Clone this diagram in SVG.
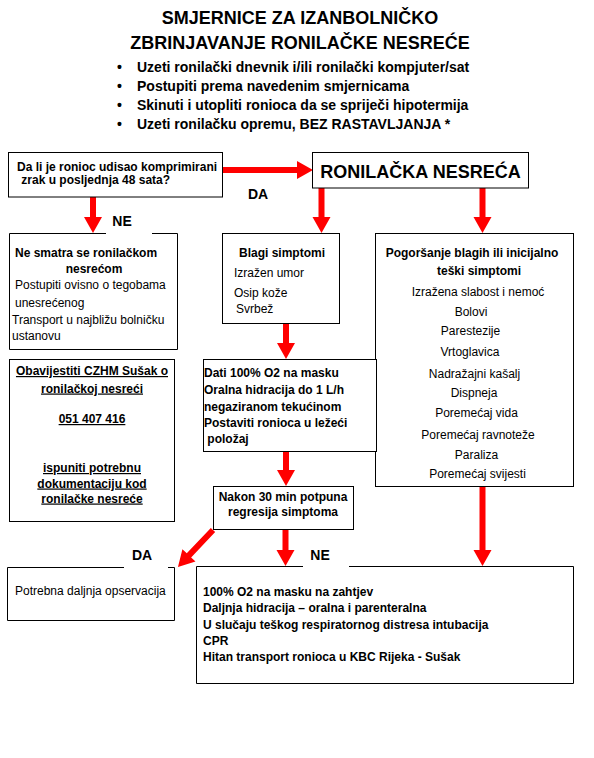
<svg xmlns="http://www.w3.org/2000/svg" width="594" height="758" viewBox="0 0 594 758">
<style>
text{font-family:"Liberation Sans",Arial,sans-serif;fill:#000}
.t{font-size:18px;font-weight:bold}
.bl{font-size:14px;font-weight:bold}
.b{font-size:12px;font-weight:bold}
.r{font-size:12px}
.lbl{font-size:14px;font-weight:bold;text-anchor:middle}
.c{text-anchor:middle}
.u{text-decoration:underline}
.box{fill:#fff;stroke:#000;stroke-width:1}
.edge{fill:none;stroke:#000;stroke-width:1}
.arrow{fill:#ff0000;stroke:none}
</style>
<rect width="594" height="758" fill="#fff"/>
<g id="title">
<text class="t c" x="300" y="24">SMJERNICE ZA IZANBOLNIČKO</text>
<text class="t c" x="300" y="49">ZBRINJAVANJE RONILAČKE NESREĆE</text>
<text class="bl" x="117" y="72">•</text><text class="bl" x="137" y="72">Uzeti ronilački dnevnik i/ili ronilački kompjuter/sat</text>
<text class="bl" x="117" y="91">•</text><text class="bl" x="137" y="91">Postupiti prema navedenim smjernicama</text>
<text class="bl" x="117" y="110">•</text><text class="bl" x="137" y="110">Skinuti i utopliti ronioca da se spriječi hipotermija</text>
<text class="bl" x="117" y="129">•</text><text class="bl" x="137" y="129">Uzeti ronilačku opremu, BEZ RASTAVLJANJA *</text>
</g>
<g id="connectors">
<path class="arrow" d="M222.5,167 H297 V161 L313,170 L297,179 V173 H222.5 Z"/>
<path class="arrow" d="M90,197 V217 H84 L93,233 L102,217 H96 V197 Z"/>
<path class="arrow" d="M318.5,188 V217 H312.5 L321.5,233 L330.5,217 H324.5 V188 Z"/>
<path class="arrow" d="M479.5,188 V217 H473.5 L482.5,233 L491.5,217 H485.5 V188 Z"/>
<path class="arrow" d="M283,323 V343 H277 L286,359 L295,343 H289 V323 Z"/>
<path class="arrow" d="M283,451 V470 H277 L286,486 L295,470 H289 V451 Z"/>
<path class="arrow" d="M282.5,529.5 V550 H276.5 L285.5,566 L294.5,550 H288.5 V529.5 Z"/>
<path class="arrow" d="M479.5,486 V550 H473.5 L482.5,566 L491.5,550 H485.5 V486 Z"/>
<path class="arrow" transform="translate(213,530) rotate(133.4)" d="M0,-3 H35 V-9 L51,0 L35,9 V3 H0 Z"/>
<text class="lbl" x="258" y="199">DA</text>
<text class="lbl" x="122" y="226">NE</text>
<text class="lbl" x="142" y="560">DA</text>
<text class="lbl" x="320" y="560">NE</text>
</g>
<g id="n-question">
<rect class="box" x="8.5" y="152.5" width="214" height="44.5"/>
<text class="b" x="17" y="170.5">Da li je ronioc udisao komprimirani</text>
<text class="b" x="18" y="183.5" xml:space="preserve"> zrak u posljednja 48 sata?</text>
</g>
<g id="n-accident">
<rect class="box" x="312.5" y="152.5" width="216" height="35.5"/>
<text class="t c" x="420.5" y="178">RONILAČKA NESREĆA</text>
</g>
<g id="n-not-accident">
<rect x="9.5" y="233.5" width="168" height="116" fill="#fff"/>
<path class="edge" d="M152,233.5 H177.5 V349.5 H9.5 V233.5 H106"/>
<text class="b" x="15" y="257">Ne smatra se ronilačkom</text>
<text class="b c" x="94" y="273">nesrećom</text>
<text class="r" x="15" y="289">Postupiti ovisno o tegobama</text>
<text class="r" x="15" y="307">unesrećenog</text>
<text class="r" x="12" y="324">Transport u najbližu bolničku</text>
<text class="r" x="12" y="340">ustanovu</text>
</g>
<g id="n-mild">
<rect class="box" x="222.5" y="233.5" width="117" height="90"/>
<text class="b c" x="282" y="257">Blagi simptomi</text>
<text class="r" x="234" y="277">Izražen umor</text>
<text class="r" x="234" y="297">Osip kože</text>
<text class="r" x="236" y="313">Svrbež</text>
</g>
<g id="n-severe">
<rect class="box" x="375.5" y="233.5" width="198" height="253"/>
<text class="b c" x="472" y="257">Pogoršanje blagih ili inicijalno</text>
<text class="b c" x="479" y="275">teški simptomi</text>
<text class="r c" x="478" y="296">Izražena slabost i nemoć</text>
<text class="r c" x="471" y="316">Bolovi</text>
<text class="r c" x="470.5" y="335">Parestezije</text>
<text class="r c" x="470" y="356">Vrtoglavica</text>
<text class="r c" x="474.5" y="377.5">Nadražajni kašalj</text>
<text class="r c" x="474" y="396.5">Dispneja</text>
<text class="r c" x="476.5" y="416.5">Poremećaj vida</text>
<text class="r c" x="478" y="439">Poremećaj ravnoteže</text>
<text class="r c" x="476.5" y="459">Paraliza</text>
<text class="r c" x="477.5" y="478">Poremećaj svijesti</text>
</g>
<g id="n-notify">
<rect class="box" x="9.5" y="359.5" width="165" height="162"/>
<text class="b c u" x="92" y="375">Obavijestiti CZHM Sušak o</text>
<text class="b c u" x="92" y="392.5">ronilačkoj nesreći</text>
<text class="b c u" x="92" y="423">051 407 416</text>
<text class="b c u" x="92" y="472">ispuniti potrebnu</text>
<text class="b c u" x="92" y="487.5">dokumentaciju kod</text>
<text class="b c u" x="92" y="502.5">ronilačke nesreće</text>
</g>
<g id="n-oxygen">
<rect class="box" x="203.5" y="359.5" width="173" height="92"/>
<text class="b" x="204" y="377">Dati 100% O2 na masku</text>
<text class="b" x="204" y="394">Oralna hidracija do 1 L/h</text>
<text class="b" x="204" y="410.5">negaziranom tekućinom</text>
<text class="b" x="204" y="427">Postaviti ronioca u ležeći</text>
<text class="b" x="204" y="443" xml:space="preserve"> položaj</text>
</g>
<g id="n-regression">
<rect class="box" x="213.5" y="486.5" width="140" height="43"/>
<text class="b c" x="283" y="501">Nakon 30 min potpuna</text>
<text class="b c" x="283" y="516">regresija simptoma</text>
</g>
<g id="n-observe">
<rect x="7.5" y="567.5" width="167" height="53" fill="#fff"/>
<path class="edge" d="M168,567.5 H174.5 V620.5 H7.5 V567.5 H124"/>
<text class="r" x="15" y="595">Potrebna daljnja opservacija</text>
</g>
<g id="n-treatment">
<rect x="196.5" y="566.5" width="377" height="117" fill="#fff"/>
<path class="edge" d="M349,566.5 H573.5 V683.5 H196.5 V566.5 H303"/>
<text class="b" x="203" y="595.5">100% O2 na masku na zahtjev</text>
<text class="b" x="203" y="612">Daljnja hidracija – oralna i parenteralna</text>
<text class="b" x="203" y="628.5">U slučaju teškog respiratornog distresa intubacija</text>
<text class="b" x="203" y="644.5">CPR</text>
<text class="b" x="203" y="661">Hitan transport ronioca u KBC Rijeka - Sušak</text>
</g>
</svg>
